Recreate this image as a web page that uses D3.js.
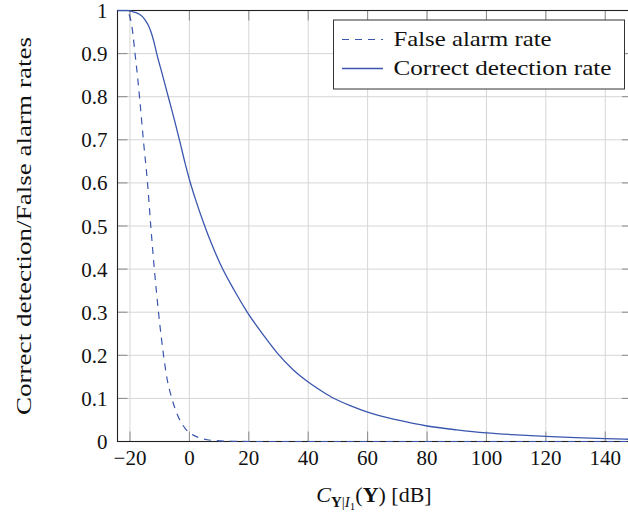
<!DOCTYPE html>
<html>
<head>
<meta charset="utf-8">
<script src="https://cdn.jsdelivr.net/npm/d3@7"></script>
<style>
  html, body { margin: 0; padding: 0; background: #fff; }
  svg { display: block; }
</style>
</head>
<body>
<svg id="chart" width="628" height="523"></svg>
<script>
// ---- data ----
const falseAlarmX = [-24.2, -22, -21, -20, -19.5, -19, -18.3, -17.5, -16.8, -15.5, -14.1, -13, -11.8, -10.4, -8.7, -7.5, -5.9, -4.5, -3.1, -1.5, 0, 1.8, 3.6, 6, 9, 15, 20, 40, 60, 80, 100, 120, 140, 149];
const falseAlarmY = [1, 1, 0.997, 0.985, 0.97, 0.945, 0.9, 0.85, 0.8, 0.7, 0.6, 0.5, 0.4, 0.3, 0.2, 0.145, 0.1, 0.07, 0.048, 0.031, 0.02, 0.013, 0.008, 0.004, 0.002, 0.0005, 0, 0, 0, 0, 0, 0, 0, 0];

const correctX = [-24.2, -21, -20, -19, -18, -17, -16, -15, -14, -13, -12, -11, -9, -7, -5, -3, -1.5, 0, 2, 5, 7.5, 10.4, 15, 19.3, 25, 29.6, 35, 40, 45, 48.4, 55, 60, 70, 80, 90, 100, 110, 120, 130, 140, 149];
const correctY = [1, 1, 0.999, 0.997, 0.995, 0.992, 0.987, 0.979, 0.968, 0.952, 0.929, 0.9, 0.849, 0.797, 0.745, 0.69, 0.647, 0.608, 0.563, 0.503, 0.458, 0.412, 0.352, 0.302, 0.246, 0.205, 0.166, 0.138, 0.115, 0.101, 0.081, 0.068, 0.05, 0.036, 0.027, 0.02, 0.0155, 0.012, 0.009, 0.0065, 0.005];

const xTicks = [-20, 0, 20, 40, 60, 80, 100, 120, 140];
const yTicks = [0, 0.1, 0.2, 0.3, 0.4, 0.5, 0.6, 0.7, 0.8, 0.9, 1];
const seriesNames = ["False alarm rate", "Correct detection rate"];

// ---- layout ----
const pL = 117.5, pR = 632, pT = 10.5, pB = 441.5;
const lineColor = "#3a56ae";
const gridColor = "#d6d6d6";
const tickColor = "#8a8a8a";
const tickLen = 10;
const serif = "'Liberation Serif', 'DejaVu Serif', serif";

const svg = d3.select("#chart").attr("font-family", serif);
const x = d3.scaleLinear().domain([-24.2, 149]).range([pL, pR]);
const y = d3.scaleLinear().domain([0, 1]).range([pB, pT]);

svg.append("defs").append("clipPath").attr("id", "plotclip")
  .append("rect").attr("x", pL).attr("y", pT - 1).attr("width", pR - pL).attr("height", pB - pT + 2);

// grid
const grid = svg.append("g");
grid.selectAll("line.vx").data(xTicks).join("line")
  .attr("x1", d => x(d)).attr("x2", d => x(d)).attr("y1", pT).attr("y2", pB)
  .attr("stroke", gridColor).attr("stroke-width", 1);
grid.selectAll("line.hy").data(yTicks.filter(d => d > 0 && d < 1)).join("line")
  .attr("x1", pL).attr("x2", pR).attr("y1", d => y(d)).attr("y2", d => y(d))
  .attr("stroke", gridColor).attr("stroke-width", 1);

// inward ticks on all four sides
const ticks = svg.append("g").attr("stroke", tickColor).attr("stroke-width", 1);
xTicks.forEach(d => {
  ticks.append("line").attr("x1", x(d)).attr("x2", x(d)).attr("y1", pB).attr("y2", pB - tickLen);
  ticks.append("line").attr("x1", x(d)).attr("x2", x(d)).attr("y1", pT).attr("y2", pT + tickLen);
});
yTicks.forEach(d => {
  ticks.append("line").attr("x1", pL).attr("x2", pL + tickLen).attr("y1", y(d)).attr("y2", y(d));
  ticks.append("line").attr("x1", pR).attr("x2", pR - tickLen).attr("y1", y(d)).attr("y2", y(d));
});

// axis frame
svg.append("rect").attr("x", pL).attr("y", pT).attr("width", pR - pL).attr("height", pB - pT)
  .attr("fill", "none").attr("stroke", "#222").attr("stroke-width", 1.1);

// curves
const line = d3.line().x(d => x(d[0])).y(d => y(d[1])).curve(d3.curveMonotoneX);
const plot = svg.append("g").attr("clip-path", "url(#plotclip)");
plot.append("path").datum(falseAlarmX.map((v, i) => [v, falseAlarmY[i]]))
  .attr("d", line).attr("fill", "none").attr("stroke", lineColor).attr("stroke-width", 1.2)
  .attr("stroke-dasharray", "7,6");
plot.append("path").datum(correctX.map((v, i) => [v, correctY[i]]))
  .attr("d", line).attr("fill", "none").attr("stroke", lineColor).attr("stroke-width", 1.3);

// tick labels
const fs = 21;
svg.append("g").selectAll("text").data(xTicks).join("text")
  .attr("x", d => x(d)).attr("y", 465).attr("text-anchor", "middle")
  .attr("font-size", fs).attr("fill", "#111")
  .text(d => d < 0 ? "\u2212" + Math.abs(d) : String(d));
svg.append("g").selectAll("text").data(yTicks).join("text")
  .attr("x", 107.5).attr("y", d => y(d) + 7.5).attr("text-anchor", "end")
  .attr("font-size", fs).attr("fill", "#111")
  .text(d => d === 0 ? "0" : d === 1 ? "1" : d3.format(".1f")(d));

// legend
const lg = svg.append("g");
lg.append("rect").attr("x", 333.5).attr("y", 20).attr("width", 291).attr("height", 69)
  .attr("fill", "#fff").attr("stroke", "#333").attr("stroke-width", 1);
const legendY = [39.5, 68.5];
const legendW = [158, 218];
seriesNames.forEach((name, i) => {
  lg.append("line").attr("x1", 342).attr("x2", 383).attr("y1", legendY[i]).attr("y2", legendY[i])
    .attr("stroke", lineColor).attr("stroke-width", i === 0 ? 1.2 : 1.3)
    .attr("stroke-dasharray", i === 0 ? "7,6" : null);
  lg.append("text").attr("x", 393.5).attr("y", legendY[i] + 6.5).attr("font-size", fs)
    .attr("fill", "#111")
    .attr("textLength", legendW[i]).attr("lengthAdjust", "spacingAndGlyphs")
    .text(name);
});

// y axis label
svg.append("text")
  .attr("transform", `translate(31,${(pT + pB) / 2}) rotate(-90)`)
  .attr("text-anchor", "middle").attr("font-size", fs).attr("fill", "#111")
  .attr("textLength", 378).attr("lengthAdjust", "spacingAndGlyphs")
  .text("Correct detection/False alarm rates");

// x axis label: C_{Y|I_1}(Y) [dB]
const xl = svg.append("text").attr("x", 374).attr("y", 502).attr("text-anchor", "middle")
  .attr("font-size", 22).attr("fill", "#111");
xl.append("tspan").attr("font-style", "italic").text("C");
xl.append("tspan").attr("font-weight", "bold").attr("font-size", 15).attr("dy", 5).text("Y");
xl.append("tspan").attr("font-size", 15).text("|");
xl.append("tspan").attr("font-style", "italic").attr("font-size", 15).text("I");
xl.append("tspan").attr("font-size", 11).attr("dy", 3).text("1");
xl.append("tspan").attr("dy", -8).text("(");
xl.append("tspan").attr("font-weight", "bold").text("Y");
xl.append("tspan").text(")\u00a0[dB]");
</script>
</body>
</html>
